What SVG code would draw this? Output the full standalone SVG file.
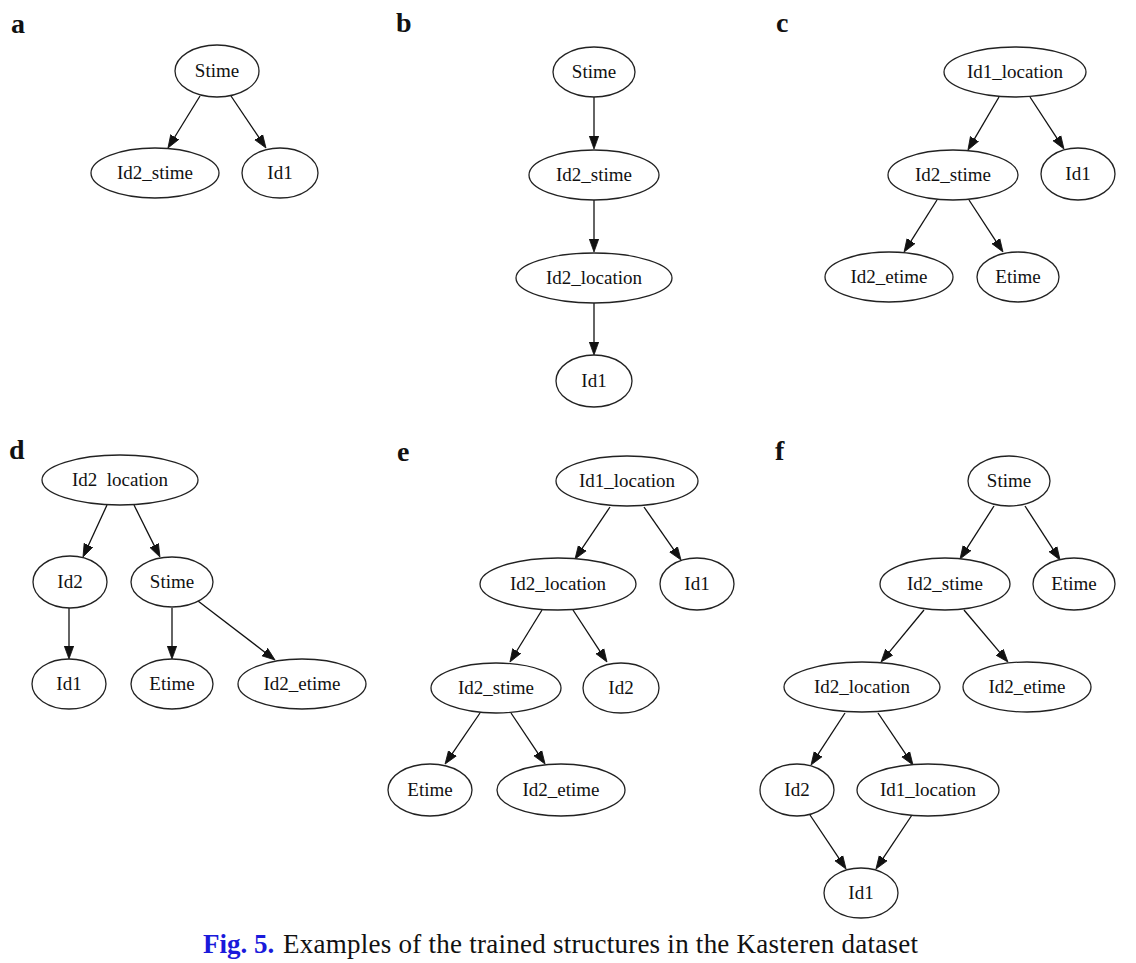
<svg xmlns="http://www.w3.org/2000/svg" width="1136" height="963" viewBox="0 0 1136 963">
<style>
.n ellipse{fill:#fff;stroke:#222;stroke-width:1.3}
.n text{font-family:"Liberation Serif","Times New Roman",serif;font-size:19px;text-anchor:middle;fill:#111}
.lbl{font-family:"Liberation Serif","Times New Roman",serif;font-size:28px;font-weight:bold;fill:#111}
.e line{stroke:#111;stroke-width:1.3;marker-end:url(#ah)}
.cap{font-family:"Liberation Serif","Times New Roman",serif;font-size:27px;fill:#111}
</style>
<defs>
<marker id="ah" markerUnits="userSpaceOnUse" viewBox="0 -6 14 12" markerWidth="14" markerHeight="12" refX="3" refY="0" orient="auto">
<path d="M0,-4.7 L13,0 L0,4.7 z" fill="#111" stroke="#111" stroke-width="0.8"/>
</marker>
</defs>
<rect width="1136" height="963" fill="#fff"/>
<g id="labels">
<text class="lbl" x="11" y="33">a</text>
<text class="lbl" x="396" y="32">b</text>
<text class="lbl" x="776" y="32">c</text>
<text class="lbl" x="9" y="459">d</text>
<text class="lbl" x="397" y="461">e</text>
<text class="lbl" x="775" y="460">f</text>
</g>
<g id="connectors" class="e">
<line x1="200" y1="96" x2="173.2" y2="139.5"/>
<line x1="231" y1="96" x2="260.4" y2="139.7"/>
<line x1="594" y1="97" x2="594" y2="139"/>
<line x1="594" y1="200" x2="594" y2="242"/>
<line x1="594" y1="303" x2="594" y2="345"/>
<line x1="999" y1="97" x2="973.0" y2="141.4"/>
<line x1="1030" y1="97" x2="1058.5" y2="140.6"/>
<line x1="937" y1="200" x2="909.4" y2="243.6"/>
<line x1="969" y1="200" x2="997.5" y2="243.6"/>
<line x1="107" y1="505" x2="87.2" y2="547.9"/>
<line x1="134" y1="505" x2="155.5" y2="548.1"/>
<line x1="69" y1="608" x2="69" y2="649"/>
<line x1="172" y1="608" x2="172" y2="649"/>
<line x1="198" y1="601" x2="267.1" y2="653.9"/>
<line x1="610" y1="507" x2="580.6" y2="550.7"/>
<line x1="644" y1="507" x2="675.3" y2="551.8"/>
<line x1="542" y1="610" x2="515.2" y2="653.5"/>
<line x1="573" y1="610" x2="601.5" y2="653.6"/>
<line x1="480" y1="713" x2="450.7" y2="755.8"/>
<line x1="511" y1="713" x2="539.5" y2="755.7"/>
<line x1="994" y1="506" x2="965.4" y2="550.6"/>
<line x1="1025" y1="506" x2="1054.6" y2="551.6"/>
<line x1="924" y1="610" x2="887.4" y2="654.3"/>
<line x1="964" y1="610" x2="1001.5" y2="654.4"/>
<line x1="845" y1="713" x2="816.5" y2="756.6"/>
<line x1="878" y1="713" x2="907.4" y2="756.7"/>
<line x1="810" y1="815" x2="840.5" y2="860.7"/>
<line x1="912" y1="815" x2="881.5" y2="860.7"/>
</g>
<!-- panel a -->
<g id="a_stime" class="n"><ellipse cx="217" cy="71" rx="42" ry="26"/><text x="217" y="77">Stime</text></g>
<g id="a_id2_stime" class="n"><ellipse cx="155" cy="173" rx="64" ry="25"/><text x="155" y="179">Id2_stime</text></g>
<g id="a_id1" class="n"><ellipse cx="280" cy="173" rx="38" ry="25"/><text x="280" y="179">Id1</text></g>
<!-- panel b -->
<g id="b_stime" class="n"><ellipse cx="594" cy="72" rx="41" ry="25"/><text x="594" y="78">Stime</text></g>
<g id="b_id2_stime" class="n"><ellipse cx="594" cy="175" rx="65" ry="25"/><text x="594" y="181">Id2_stime</text></g>
<g id="b_id2_location" class="n"><ellipse cx="594" cy="278" rx="78" ry="25"/><text x="594" y="284">Id2_location</text></g>
<g id="b_id1" class="n"><ellipse cx="594" cy="381" rx="38" ry="26"/><text x="594" y="387">Id1</text></g>
<!-- panel c -->
<g id="c_id1_location" class="n"><ellipse cx="1015" cy="72" rx="71" ry="25"/><text x="1015" y="78">Id1_location</text></g>
<g id="c_id2_stime" class="n"><ellipse cx="953" cy="175" rx="65" ry="25"/><text x="953" y="181">Id2_stime</text></g>
<g id="c_id1" class="n"><ellipse cx="1078" cy="174" rx="37" ry="26"/><text x="1078" y="180">Id1</text></g>
<g id="c_id2_etime" class="n"><ellipse cx="889" cy="277" rx="64" ry="25"/><text x="889" y="283">Id2_etime</text></g>
<g id="c_etime" class="n"><ellipse cx="1018" cy="277" rx="41" ry="25"/><text x="1018" y="283">Etime</text></g>
<!-- panel d -->
<g id="d_id2_location" class="n"><ellipse cx="120" cy="480" rx="78" ry="25"/><text x="120" y="486" xml:space="preserve">Id2  location</text></g>
<g id="d_id2" class="n"><ellipse cx="70" cy="582" rx="37" ry="26"/><text x="70" y="588">Id2</text></g>
<g id="d_stime" class="n"><ellipse cx="172" cy="582" rx="41" ry="25"/><text x="172" y="588">Stime</text></g>
<g id="d_id1" class="n"><ellipse cx="69" cy="684" rx="37" ry="25"/><text x="69" y="690">Id1</text></g>
<g id="d_etime" class="n"><ellipse cx="172" cy="684" rx="41" ry="25"/><text x="172" y="690">Etime</text></g>
<g id="d_id2_etime" class="n"><ellipse cx="302" cy="684" rx="64" ry="25"/><text x="302" y="690">Id2_etime</text></g>
<!-- panel e -->
<g id="e_id1_location" class="n"><ellipse cx="627" cy="481" rx="71" ry="25"/><text x="627" y="487">Id1_location</text></g>
<g id="e_id2_location" class="n"><ellipse cx="558" cy="584" rx="78" ry="26"/><text x="558" y="590">Id2_location</text></g>
<g id="e_id1" class="n"><ellipse cx="697" cy="584" rx="37" ry="26"/><text x="697" y="590">Id1</text></g>
<g id="e_id2_stime" class="n"><ellipse cx="496" cy="688" rx="65" ry="25"/><text x="496" y="694">Id2_stime</text></g>
<g id="e_id2" class="n"><ellipse cx="621" cy="688" rx="38" ry="25"/><text x="621" y="694">Id2</text></g>
<g id="e_etime" class="n"><ellipse cx="430" cy="790" rx="42" ry="26"/><text x="430" y="796">Etime</text></g>
<g id="e_id2_etime" class="n"><ellipse cx="561" cy="790" rx="64" ry="26"/><text x="561" y="796">Id2_etime</text></g>
<!-- panel f -->
<g id="f_stime" class="n"><ellipse cx="1009" cy="481" rx="41" ry="25"/><text x="1009" y="487">Stime</text></g>
<g id="f_id2_stime" class="n"><ellipse cx="945" cy="584" rx="65" ry="26"/><text x="945" y="590">Id2_stime</text></g>
<g id="f_etime" class="n"><ellipse cx="1074" cy="584" rx="41" ry="26"/><text x="1074" y="590">Etime</text></g>
<g id="f_id2_location" class="n"><ellipse cx="862" cy="687" rx="78" ry="25"/><text x="862" y="693">Id2_location</text></g>
<g id="f_id2_etime" class="n"><ellipse cx="1027" cy="687" rx="64" ry="25"/><text x="1027" y="693">Id2_etime</text></g>
<g id="f_id2" class="n"><ellipse cx="797" cy="790" rx="37" ry="26"/><text x="797" y="796">Id2</text></g>
<g id="f_id1_location" class="n"><ellipse cx="928" cy="790" rx="71" ry="26"/><text x="928" y="796">Id1_location</text></g>
<g id="f_id1" class="n"><ellipse cx="861" cy="893" rx="37" ry="25"/><text x="861" y="899">Id1</text></g>
<g id="caption">
<text class="cap" x="203" y="953" fill="#1a1adb" font-weight="bold" style="fill:#1a1adb">Fig. 5.</text>
<text class="cap" x="283" y="953" textLength="635" lengthAdjust="spacing">Examples of the trained structures in the Kasteren dataset</text>
</g>
</svg>
